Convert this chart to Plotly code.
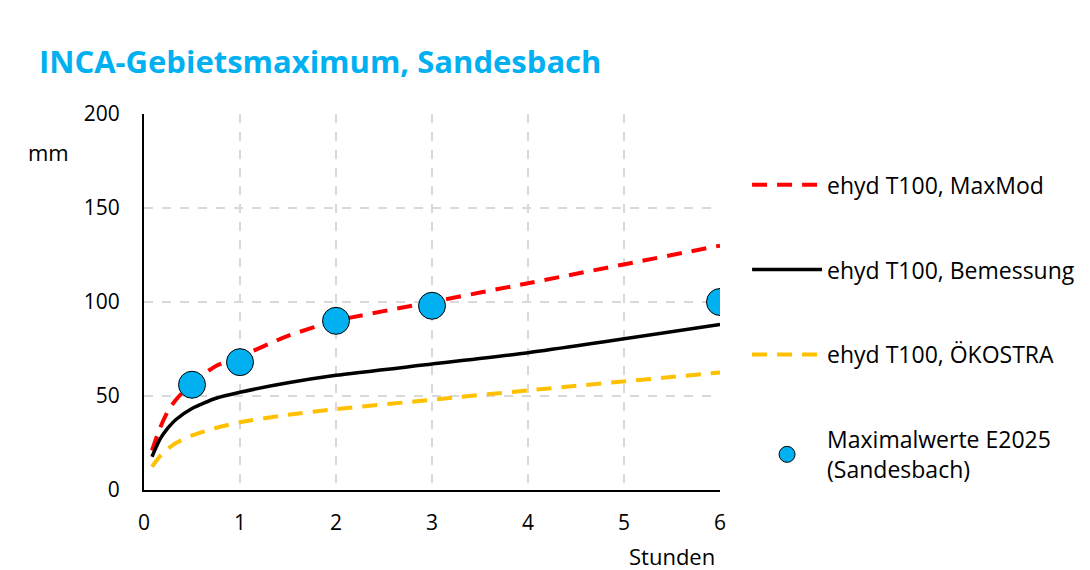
import plotly.graph_objects as go

# Dauerstufen in Stunden
dauer_h = [0.083, 0.167, 0.25, 0.333, 0.5, 0.75, 1, 1.5, 2, 3, 4, 6]

# ehyd T100 Niederschlagshöhen (mm)
maxmod = [21, 33, 42, 48, 57, 66, 71, 82, 90, 100, 110, 130]
bemessung = [17.7, 27, 33, 37.5, 43.4, 48.8, 52, 57, 61, 67, 73, 88]
oekostra = [12.4, 18, 22, 25, 29, 33, 36, 40, 43, 48, 53, 62.5]

# Maximalwerte E2025
max_x = [0.5, 1, 2, 3, 6]
max_y = [56, 68, 90, 98, 100]

FONT = "Open Sans"
GRID = "#d9d9d9"

fig = go.Figure()

fig.add_trace(go.Scatter(
    x=dauer_h, y=maxmod,
    name="ehyd T100, MaxMod",
    mode="lines",
    line=dict(color="#ff0000", width=4, dash="15px,10px", shape="spline", smoothing=0.6),
    legendgroup="a",
))
fig.add_trace(go.Scatter(
    x=dauer_h, y=bemessung,
    name="ehyd T100, Bemessung",
    mode="lines",
    line=dict(color="#000000", width=3.5, shape="spline", smoothing=0.6),
    legendgroup="b",
))
fig.add_trace(go.Scatter(
    x=dauer_h, y=oekostra,
    name="ehyd T100, ÖKOSTRA",
    mode="lines",
    line=dict(color="#ffc000", width=4, dash="15px,10px", shape="spline", smoothing=0.6),
    legendgroup="c",
))
fig.add_trace(go.Scatter(
    x=max_x, y=max_y,
    name="Maximalwerte E2025<br>(Sandesbach)",
    mode="markers",
    marker=dict(color="#00b0f0", size=27, line=dict(color="#000000", width=1)),
    legendgroup="d",
))

fig.add_annotation(
    text="mm", xref="paper", yref="paper", x=-0.165, y=0.9,
    xanchor="center", yanchor="middle", showarrow=False,
    font=dict(family=FONT, size=22, color="#000000"),
)
fig.add_annotation(
    text="Stunden", xref="paper", yref="paper", x=0.995, y=-0.175,
    xanchor="right", yanchor="middle", showarrow=False,
    font=dict(family=FONT, size=22, color="#000000"),
)

fig.update_layout(
    width=1090, height=570,
    paper_bgcolor="white", plot_bgcolor="white",
    title=dict(
        text="<b>INCA-Gebietsmaximum, Sandesbach</b>",
        x=0.0284, xanchor="left", y=0.905, yanchor="middle",
        font=dict(family=FONT, size=31, color="#00b0f0"),
    ),
    font=dict(family=FONT, size=21, color="#000000"),
    margin=dict(l=136, r=378, t=106, b=88),
    showlegend=True,
    legend=dict(
        x=1.047, xanchor="left", y=0.869, yanchor="top",
        itemwidth=70, tracegroupgap=52,
        font=dict(family=FONT, size=23, color="#000000"),
        bgcolor="rgba(0,0,0,0)",
    ),
)
fig.update_xaxes(
    range=[0, 6], dtick=1, tick0=0,
    showgrid=True, gridcolor=GRID, griddash="dash", gridwidth=1.5,
    showline=True, linecolor="#000000", linewidth=2,
    zeroline=False, ticks="", ticklabelstandoff=13,
)
fig.update_yaxes(
    range=[0, 200], dtick=50, tick0=0,
    showgrid=True, gridcolor=GRID, griddash="dash", gridwidth=1.5,
    showline=True, linecolor="#000000", linewidth=2,
    zeroline=False, ticks="", ticklabelstandoff=18,
)

fig.write_html("out.html")
